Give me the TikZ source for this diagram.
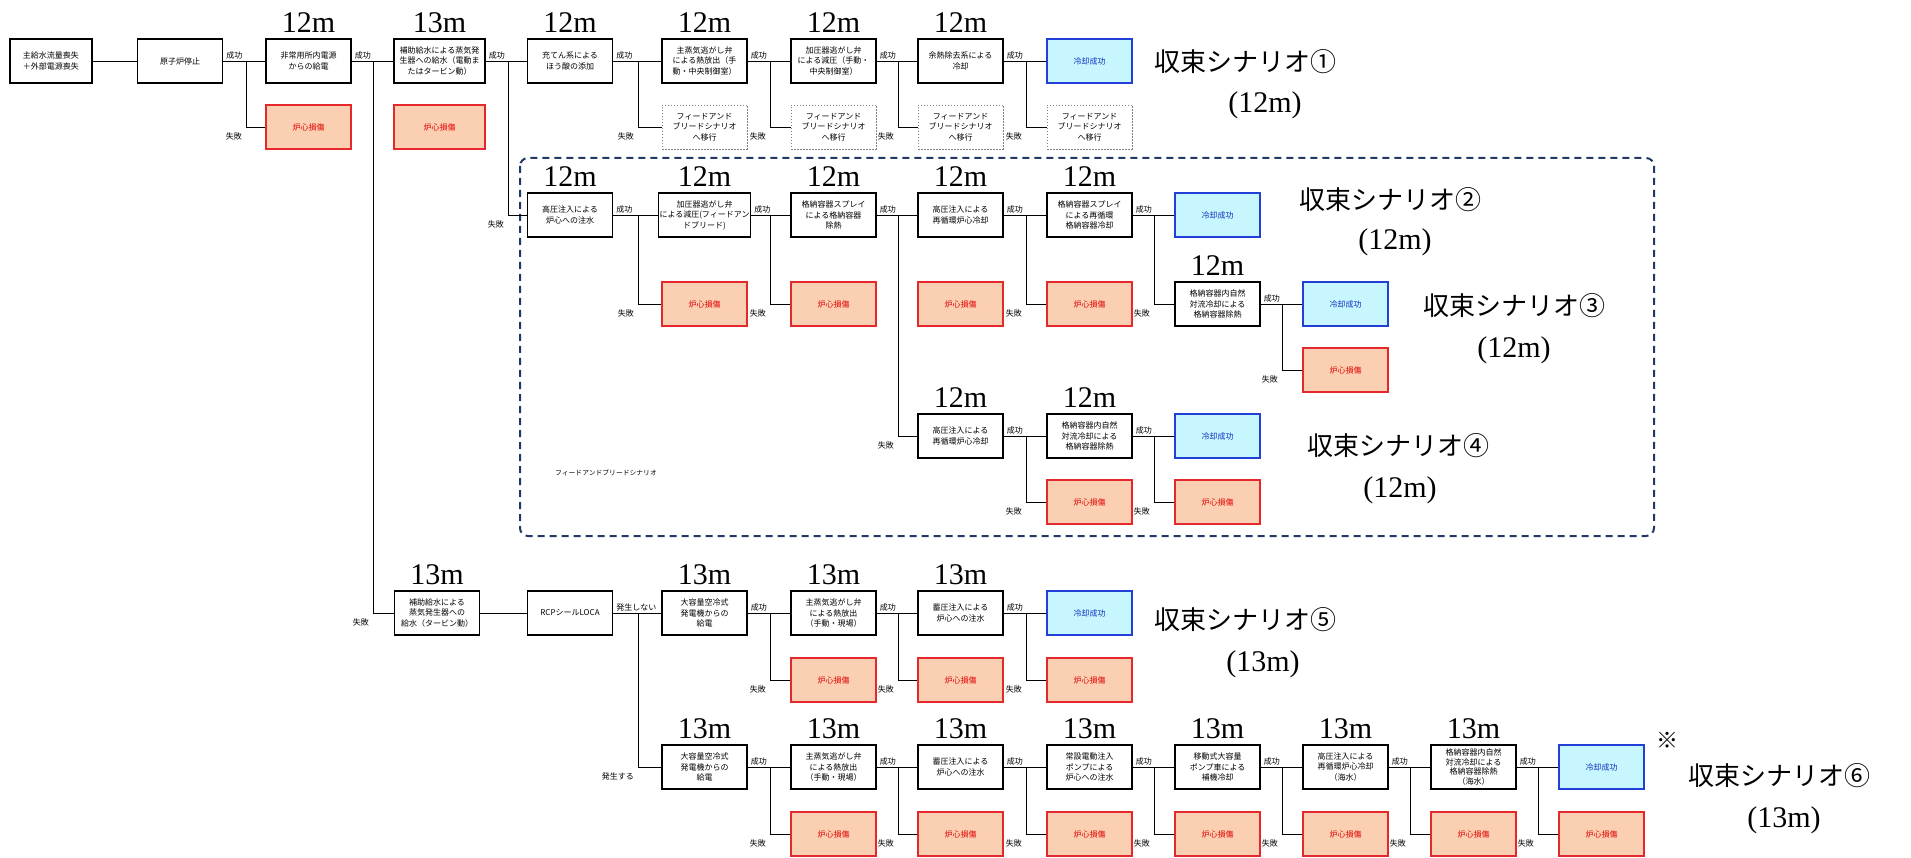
\documentclass[tikz,border=0pt]{standalone}
\usepackage{fontspec}
\setmainfont{Liberation Serif}
\newfontfamily\cjk{Noto Sans CJK JP}
\definecolor{dmgfill}{RGB}{251,208,178}
\definecolor{dmgborder}{RGB}{228,40,44}
\definecolor{dmgtext}{RGB}{224,0,0}
\definecolor{okfill}{RGB}{200,246,255}
\definecolor{okborder}{RGB}{32,64,216}
\definecolor{oktext}{RGB}{16,48,192}
\definecolor{navyline}{RGB}{31,56,100}
\newcommand{\sbranch}[4]{%
  \draw[conn] (#1.east) -- (#3.west);
  \draw[conn] (#1.east -| #2) |- (#4.west);
  \node[lbl, anchor=south west, xshift=2pt, yshift=1pt] (s#1) at (#1.east) {成功};
  \node[lbl, anchor=north east, xshift=-3pt, yshift=-5pt] (f#1) at (#4.west -| #2) {失敗};
}
\newcommand{\hgtlab}[2]{%
  \node[hgt, anchor=base, yshift=6pt] (h#1) at (#1.north) {#2};
}
\begin{document}
\begin{tikzpicture}[x=1pt,y=-1pt,
  base/.style={minimum width=85pt, minimum height=44pt, align=center, inner sep=1pt,
    font=\cjk\fontsize{8}{10.5}\selectfont},
  evbox/.style={base, draw=black, line width=1.2pt, fill=white},
  dmg/.style={base, draw=dmgborder, line width=1.2pt, fill=dmgfill, text=dmgtext},
  okbox/.style={base, draw=okborder, line width=1.2pt, fill=okfill, text=oktext},
  fbbox/.style={base, draw=gray, line width=0.8pt, dash pattern=on 1.5pt off 1.5pt, fill=white},
  lbl/.style={font=\cjk\fontsize{8}{9}\selectfont, inner sep=1pt},
  hgt/.style={font=\fontsize{30}{30}\selectfont, inner sep=0pt},
  conn/.style={line width=0.9pt},
  scen/.style={font=\cjk\fontsize{26}{30}\selectfont, inner sep=0pt},
  scenm/.style={font=\fontsize{30}{30}\selectfont, inner sep=0pt},
]
\path[use as bounding box] (0,0) rectangle (1911,858);

% junction coordinates
\coordinate (jB) at (246,0);
\coordinate (jC) at (373,0);
\coordinate (jD) at (508,0);
\coordinate (jE) at (638,0);
\coordinate (jF) at (770,0);
\coordinate (jG) at (898,0);
\coordinate (jH) at (1026,0);
\coordinate (jI) at (1154,0);
\coordinate (jJ) at (1282,0);
\coordinate (jK) at (1410,0);
\coordinate (jL) at (1538,0);

% feed and bleed region
\draw[navyline, line width=2pt, dash pattern=on 7pt off 5pt, rounded corners=8pt] (520,158) rectangle (1654,536);
\node[font=\cjk\fontsize{6.8}{8}\selectfont, inner sep=0pt] (fblabel) at (606,473) {フィードアンドブリードシナリオ};

% ---------- row 1
\node[evbox, minimum width=82pt] (A) at (51,61) {主給水流量喪失\\＋外部電源喪失};
\node[evbox] (B) at (180,61) {原子炉停止};
\node[evbox] (C) at (308.5,61) {非常用所内電源\\からの給電};
\node[evbox, minimum width=91pt] (D) at (439.5,61) {補助給水による蒸気発\\生器への給水（電動ま\\たはタービン動）};
\node[evbox] (E) at (570,61) {充てん系による\\ほう酸の添加};
\node[evbox] (F) at (704.5,61) {主蒸気逃がし弁\\による熱放出（手\\動・中央制御室）};
\node[evbox] (G) at (833.5,61) {加圧器逃がし弁\\による減圧（手動・\\中央制御室）};
\node[evbox] (H) at (960.5,61) {余熱除去系による\\冷却};
\node[okbox] (I) at (1089.5,61) {冷却成功};
\node[dmg] (d1C) at (308.5,127) {炉心損傷};
\node[dmg, minimum width=91pt] (d1D) at (439.5,127) {炉心損傷};
\node[fbbox] (fb1) at (704.5,127) {フィードアンド\\ブリードシナリオ\\へ移行};
\node[fbbox] (fb2) at (833.5,127) {フィードアンド\\ブリードシナリオ\\へ移行};
\node[fbbox] (fb3) at (960.5,127) {フィードアンド\\ブリードシナリオ\\へ移行};
\node[fbbox] (fb4) at (1089.5,127) {フィードアンド\\ブリードシナリオ\\へ移行};

% ---------- rows 2-4
\node[evbox] (R2a) at (570,215) {高圧注入による\\炉心への注水};
\node[evbox] (R2b) at (704.5,215) {加圧器逃がし弁\\による減圧(フィードアン\\ドブリード)};
\node[evbox] (R2c) at (833.5,215) {格納容器スプレイ\\による格納容器\\除熱};
\node[evbox] (R2d) at (960.5,215) {高圧注入による\\再循環炉心冷却};
\node[evbox] (R2e) at (1089.5,215) {格納容器スプレイ\\による再循環\\格納容器冷却};
\node[okbox] (R2f) at (1217.5,215) {冷却成功};
\node[dmg] (d2F) at (704.5,304) {炉心損傷};
\node[dmg] (d2G) at (833.5,304) {炉心損傷};
\node[dmg] (d2H) at (960.5,304) {炉心損傷};
\node[dmg] (d2I) at (1089.5,304) {炉心損傷};
\node[evbox] (R3a) at (1217.5,304) {格納容器内自然\\対流冷却による\\格納容器除熱};
\node[okbox] (R3b) at (1345.5,304) {冷却成功};
\node[dmg] (d3K) at (1345.5,370) {炉心損傷};
\node[evbox] (R4a) at (960.5,436) {高圧注入による\\再循環炉心冷却};
\node[evbox] (R4b) at (1089.5,436) {格納容器内自然\\対流冷却による\\格納容器除熱};
\node[okbox] (R4c) at (1217.5,436) {冷却成功};
\node[dmg] (d4I) at (1089.5,502) {炉心損傷};
\node[dmg] (d4J) at (1217.5,502) {炉心損傷};

% ---------- row 5
\node[evbox] (R5a) at (437,613) {補助給水による\\蒸気発生器への\\給水（タービン動）};
\node[evbox] (R5b) at (570,613) {RCPシールLOCA};
\node[evbox] (R5c) at (704.5,613) {大容量空冷式\\発電機からの\\給電};
\node[evbox] (R5d) at (833.5,613) {主蒸気逃がし弁\\による熱放出\\（手動・現場）};
\node[evbox] (R5e) at (960.5,613) {蓄圧注入による\\炉心への注水};
\node[okbox] (R5f) at (1089.5,613) {冷却成功};
\node[dmg] (d5G) at (833.5,680) {炉心損傷};
\node[dmg] (d5H) at (960.5,680) {炉心損傷};
\node[dmg] (d5I) at (1089.5,680) {炉心損傷};

% ---------- row 6
\node[evbox] (R6a) at (704.5,767) {大容量空冷式\\発電機からの\\給電};
\node[evbox] (R6b) at (833.5,767) {主蒸気逃がし弁\\による熱放出\\（手動・現場）};
\node[evbox] (R6c) at (960.5,767) {蓄圧注入による\\炉心への注水};
\node[evbox] (R6d) at (1089.5,767) {常設電動注入\\ポンプによる\\炉心への注水};
\node[evbox] (R6e) at (1217.5,767) {移動式大容量\\ポンプ車による\\補機冷却};
\node[evbox] (R6f) at (1345.5,767) {高圧注入による\\再循環炉心冷却\\（海水）};
\node[evbox, font=\cjk\fontsize{8}{9.5}\selectfont] (R6g) at (1473.5,767) {格納容器内自然\\対流冷却による\\格納容器除熱\\（海水）};
\node[okbox] (R6h) at (1601.5,767) {冷却成功};
\node[dmg] (d6G) at (833.5,834) {炉心損傷};
\node[dmg] (d6H) at (960.5,834) {炉心損傷};
\node[dmg] (d6I) at (1089.5,834) {炉心損傷};
\node[dmg] (d6J) at (1217.5,834) {炉心損傷};
\node[dmg] (d6K) at (1345.5,834) {炉心損傷};
\node[dmg] (d6L) at (1473.5,834) {炉心損傷};
\node[dmg] (d6M) at (1601.5,834) {炉心損傷};

% ---------- connectors
\draw[conn] (A) -- (B);
\sbranch{B}{jB}{C}{d1C}
\sbranch{C}{jC}{D}{R5a}
\sbranch{D}{jD}{E}{R2a}
\sbranch{E}{jE}{F}{fb1}
\sbranch{F}{jF}{G}{fb2}
\sbranch{G}{jG}{H}{fb3}
\sbranch{H}{jH}{I}{fb4}
\sbranch{R2a}{jE}{R2b}{d2F}
\sbranch{R2b}{jF}{R2c}{d2G}
\sbranch{R2c}{jG}{R2d}{R4a}
\sbranch{R2d}{jH}{R2e}{d2I}
\sbranch{R2e}{jI}{R2f}{R3a}
\sbranch{R3a}{jJ}{R3b}{d3K}
\sbranch{R4a}{jH}{R4b}{d4I}
\sbranch{R4b}{jI}{R4c}{d4J}
\draw[conn] (R5a) -- (R5b);
\draw[conn] (R5b.east) -- (R5c.west);
\draw[conn] (R5b.east -| jE) |- (R6a.west);
\node[lbl, anchor=south west, xshift=2pt, yshift=1pt] (sR5b) at (R5b.east) {発生しない};
\node[lbl, anchor=north east, xshift=-3pt, yshift=-5pt] (fR5b) at (R6a.west -| jE) {発生する};
\sbranch{R5c}{jF}{R5d}{d5G}
\sbranch{R5d}{jG}{R5e}{d5H}
\sbranch{R5e}{jH}{R5f}{d5I}
\sbranch{R6a}{jF}{R6b}{d6G}
\sbranch{R6b}{jG}{R6c}{d6H}
\sbranch{R6c}{jH}{R6d}{d6I}
\sbranch{R6d}{jI}{R6e}{d6J}
\sbranch{R6e}{jJ}{R6f}{d6K}
\sbranch{R6f}{jK}{R6g}{d6L}
\sbranch{R6g}{jL}{R6h}{d6M}

% ---------- height labels
\hgtlab{C}{12m}
\hgtlab{D}{13m}
\hgtlab{E}{12m}
\hgtlab{F}{12m}
\hgtlab{G}{12m}
\hgtlab{H}{12m}
\hgtlab{R2a}{12m}
\hgtlab{R2b}{12m}
\hgtlab{R2c}{12m}
\hgtlab{R2d}{12m}
\hgtlab{R2e}{12m}
\hgtlab{R3a}{12m}
\hgtlab{R4a}{12m}
\hgtlab{R4b}{12m}
\hgtlab{R5a}{13m}
\hgtlab{R5c}{13m}
\hgtlab{R5d}{13m}
\hgtlab{R5e}{13m}
\hgtlab{R6a}{13m}
\hgtlab{R6b}{13m}
\hgtlab{R6c}{13m}
\hgtlab{R6d}{13m}
\hgtlab{R6e}{13m}
\hgtlab{R6f}{13m}
\hgtlab{R6g}{13m}

% ---------- scenario labels
\node[scen] (sc1) at (1245,62) {収束シナリオ①};
\node[scenm] (sc1m) at (1265,105) {(12m)};
\node[scen] (sc2) at (1390,200) {収束シナリオ②};
\node[scenm] (sc2m) at (1395,242) {(12m)};
\node[scen] (sc3) at (1514,306) {収束シナリオ③};
\node[scenm] (sc3m) at (1514,350) {(12m)};
\node[scen] (sc4) at (1398,446) {収束シナリオ④};
\node[scenm] (sc4m) at (1400,490) {(12m)};
\node[scen] (sc5) at (1245,620) {収束シナリオ⑤};
\node[scenm] (sc5m) at (1263,664) {(13m)};
\node[scen, font=\cjk\fontsize{22}{24}\selectfont] (note6) at (1667,740) {※};
\node[scen] (sc6) at (1779,776) {収束シナリオ⑥};
\node[scenm] (sc6m) at (1784,820) {(13m)};
\end{tikzpicture}
\end{document}
